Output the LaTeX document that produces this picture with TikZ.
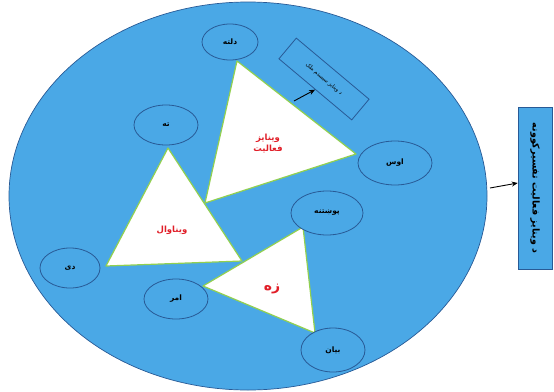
\documentclass[tikz,border=0pt]{standalone}
\usepackage{fontspec}
\TeXXeTstate=1
\newfontfamily\arabicfont[Script=Arabic]{DejaVu Sans}
\definecolor{bgblue}{RGB}{74,168,230}
\definecolor{edgeblue}{RGB}{40,90,150}
\definecolor{trigreen}{RGB}{146,208,80}
\definecolor{txtred}{RGB}{225,30,40}
\tikzset{
  small/.style={ellipse, draw=edgeblue, line width=0.8pt, fill=bgblue, inner sep=0pt,
    font=\arabicfont\bfseries\fontsize{7.5}{8}\selectfont},
  tri/.style={draw=trigreen, fill=white, line width=1.2pt, line join=round},
  redlbl/.style={text=txtred, font=\arabicfont\bfseries\fontsize{8.5}{11}\selectfont, align=center},
  arr/.style={-{Stealth[length=6pt,width=5pt]}, line width=0.9pt, black}
}
\usetikzlibrary{shapes.geometric,arrows.meta}
\begin{document}
\begin{tikzpicture}[x=1pt,y=-1pt]
\useasboundingbox (0,0) rectangle (554,391);
% big ellipse
\node[ellipse, draw=edgeblue, line width=0.7pt, fill=bgblue, minimum width=478pt, minimum height=388pt, inner sep=0pt] (big) at (248,196) {};
% triangles
\filldraw[tri] (237,61) -- (356,154) -- (205,203) -- cycle;
\filldraw[tri] (168,148) -- (242,261) -- (106,266) -- cycle;
\filldraw[tri] (303,227) -- (315,333) -- (203,286) -- cycle;
% small ellipses
\node[small, minimum width=56pt, minimum height=36pt] (e1) at (230,42) {\beginR دلته\endR};
\node[small, minimum width=64pt, minimum height=40pt] (e2) at (166,125) {\beginR ته\endR};
\node[small, minimum width=60pt, minimum height=40pt] (e3) at (70,268) {\beginR دی\endR};
\node[small, minimum width=64pt, minimum height=40pt] (e4) at (176,299) {\beginR امر\endR};
\node[small, minimum width=72pt, minimum height=44pt] (e5) at (327,213) {\beginR پوښتنه\endR};
\node[small, minimum width=64pt, minimum height=44pt] (e6) at (333,350) {\beginR بیان\endR};
\node[small, minimum width=74pt, minimum height=44pt] (e7) at (395,163) {\beginR اوس\endR};
% triangle labels
\node[redlbl] (t1) at (268,143) {\beginR وینایز\endR\\\beginR فعالیت\endR};
\node[redlbl] (t2) at (172,230) {\beginR ویناوال\endR};
\node[redlbl, font=\arabicfont\bfseries\fontsize{14}{16}\selectfont] (t3) at (272,289) {\beginR زه\endR};
% rotated box
\node[draw=edgeblue, line width=0.8pt, rotate=-40, minimum width=95pt, minimum height=27pt, inner sep=1pt,
  font=\arabicfont\fontsize{5.5}{6}\selectfont] (rb) at (324,79) {\beginR د وینایز سیستم ملک\endR};
\coordinate (a0) at (294,101);
\draw[arr] (a0) -- (rb.south);
% right box
\node[draw=edgeblue, line width=0.6pt, fill=bgblue, minimum width=34pt, minimum height=162pt, inner sep=0pt] (rbox) at (535,188) {};
\node[rotate=-90, font=\arabicfont\bfseries\fontsize{9.5}{11}\selectfont] (rt) at (rbox.center) {\beginR د وینایز فعالیت تفسیرکوونه\endR};
\coordinate (a1) at (490,188);
\draw[arr] (a1) -- (rbox.west |- 0,183);
\end{tikzpicture}
\end{document}
